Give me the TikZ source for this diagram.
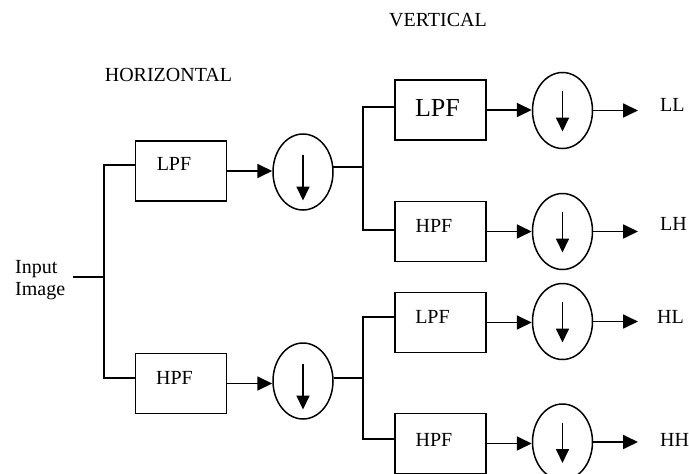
\documentclass[tikz,border=0pt]{standalone}
\usepackage{fontspec}
\setmainfont{Liberation Serif}
\usetikzlibrary{arrows.meta,shapes.geometric,calc}
\begin{document}
\begin{tikzpicture}[x=1pt,y=-1pt,
  wire/.style={line width=1.8pt},
  arr/.style={wire,-{Triangle[length=15pt,width=14pt]}},
  darr/.style={line width=1.8pt,-{Triangle[length=14pt,width=13pt]}},
  filt/.style={draw,line width=1.8pt,minimum width=91pt,minimum height=60pt,inner sep=0pt},
  dec/.style={draw,ellipse,line width=1.5pt,minimum width=60pt,minimum height=76pt,inner sep=0pt},
  lab/.style={inner sep=0pt,font=\fontsize{20}{22}\selectfont},
  big/.style={inner sep=0pt,font=\fontsize{26}{28}\selectfont}]
\useasboundingbox (0,0) rectangle (689,474);
\clip (0,0) rectangle (689,474);

% titles
\node[lab] (hor) at (168.5,74.5) {HORIZONTAL};
\node[lab] (ver) at (438,20) {VERTICAL};

% input
\node[lab,align=left,anchor=north west] (in) at (15,260) {Input\\Image};

% filter boxes
\node[filt] (B1) at (181,171) {};
\node[filt] (B2) at (181,383.5) {};
\node[filt] (B3) at (440.5,110) {};
\node[filt] (B4) at (440.5,231.5) {};
\node[filt] (B5) at (440.5,322.5) {};
\node[filt] (B6) at (440.5,443.5) {};

\node[lab] (tB1) at (174,164) {LPF};
\node[lab] (tB2) at (174.5,377.5) {HPF};
\node[big] (tB3) at (437.5,107.5) {LPF};
\node[lab] (tB4) at (434,225.5) {HPF};
\node[lab] (tB5) at (432.5,317) {LPF};
\node[lab] (tB6) at (434,439.5) {HPF};

% downsamplers
\node[dec] (E1) at (303,172) {};
\node[dec] (E2) at (303,381) {};
\node[dec] (E3) at (562.5,110.5) {};
\node[dec] (E4) at (562.5,231.5) {};
\node[dec] (E5) at (562.5,321.5) {};
\node[dec] (E6) at (562.5,442) {};

\foreach \e in {E1,E2}{
  \draw[darr] ($(\e.center)+(0,-17)$) -- ($(\e.center)+(0,28.5)$);
}
\foreach \e in {E3,E4,E5,E6}{
  \draw[darr] ($(\e.center)+(0,-19.5)$) -- ($(\e.center)+(0,21)$);
}

% outputs
\node[lab,anchor=west] (LL) at (660,105) {LL};
\node[lab,anchor=west] (LH) at (660,224) {LH};
\node[lab,anchor=west] (HL) at (657,316.5) {HL};
\node[lab,anchor=west] (HH) at (660,440) {HH};

% junctions
\coordinate (j1) at (104,277);
\coordinate (t1a) at (104,165);
\coordinate (t1b) at (104,378);
\coordinate (t2a) at (363,107);
\coordinate (t2b) at (363,230);
\coordinate (t3a) at (363,317);
\coordinate (t3b) at (363,439);

% first stage
\draw[wire] ($(j1)+(-31,0)$) -- (j1);
\draw[wire] (B1.west |- t1a) -- (t1a) -- (t1b) -- (B2.west |- t1b);
\draw[arr] (B1.east) -- (B1.east -| E1.west);
\draw[arr] (B2.east) -- (B2.east -| E2.west);

% second stage
\draw[wire] (E1.10) -- (E1.10 -| t2a);
\draw[wire] (B3.west |- t2a) -- (t2a) -- (t2b) -- (B4.west |- t2b);
\draw[wire] (E2.5) -- (E2.5 -| t3a);
\draw[wire] (B5.west |- t3a) -- (t3a) -- (t3b) -- (B6.west |- t3b);

\draw[arr] (B3.east) -- (B3.east -| E3.west);
\draw[arr] (B4.east) -- (B4.east -| E4.west);
\draw[arr] (B5.east) -- (B5.east -| E5.west);
\draw[arr] (B6.east) -- (B6.east -| E6.west);

\draw[arr,shorten >=22pt] (E3.east) -- (E3.east -| LL.west);
\draw[arr,shorten >=22pt] (E4.east) -- (E4.east -| LH.west);
\draw[arr,shorten >=19pt] (E5.east) -- (E5.east -| HL.west);
\draw[arr,shorten >=22pt] (E6.east) -- (E6.east -| HH.west);
\end{tikzpicture}
\end{document}
